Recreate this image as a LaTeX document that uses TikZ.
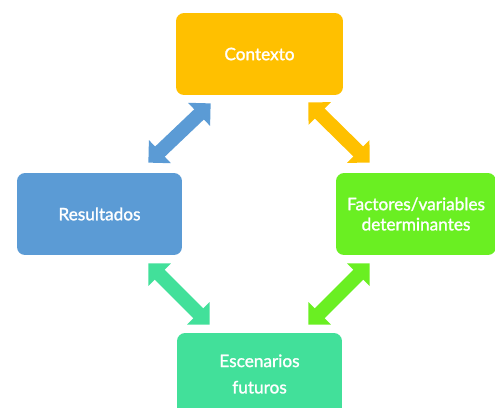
\documentclass[tikz,border=0pt]{standalone}
\usepackage{fontspec}
\setmainfont{Lato}[BoldFont=Lato, BoldFeatures={FakeBold=1.4}]
\usetikzlibrary{arrows.meta,calc}
\definecolor{ctxcolor}{HTML}{FFC000}
\definecolor{rescolor}{HTML}{5B9BD5}
\definecolor{faccolor}{HTML}{6AEF22}
\definecolor{esccolor}{HTML}{42E09A}
\begin{document}
\begin{tikzpicture}[x=0.02cm,y=-0.02cm]
        % Define styles for nodes and edges
        \tikzstyle{box}=[rounded corners=0.16cm, minimum height=1.64cm, inner sep=0pt, text=white, align=center, font=\fontsize{9.8}{11.5}\selectfont\bfseries]
        \tikzstyle{biarrow}=[line width=0.28cm, {Triangle[width=0.62cm,length=0.32cm]}-{Triangle[width=0.62cm,length=0.32cm]}]

        \useasboundingbox (0,0) rectangle (495,407);
        \clip (0,0) rectangle (495,407);

        % Define boxes
        \node[box, fill=ctxcolor, minimum width=3.34cm] (ctx) at (259.5,54) {Contexto};
        \node[box, fill=rescolor, minimum width=3.30cm] (res) at (99.5,214) {Resultados};
        \node[box, fill=faccolor, minimum width=3.20cm] (fac) at (416,214) {Factores/variables\\determinantes};
        \node[box, fill=esccolor, minimum width=3.30cm] (esc) at (259.5,374) {Escenarios\\[3.5pt]futuros};

        % Draw arrows
        \draw[biarrow, rescolor] ($(ctx.south west)+(35,8)$) -- ($(res.north east)+(-34,-10)$);
        \draw[biarrow, ctxcolor] ($(ctx.south east)+(-35,7)$) -- ($(fac.north west)+(34,-10)$);
        \draw[biarrow, esccolor] ($(res.south east)+(-34,8)$) -- ($(esc.north west)+(33,-8)$);
        \draw[biarrow, faccolor] ($(fac.south west)+(34,8)$) -- ($(esc.north east)+(-34,-8)$);

      \end{tikzpicture}
\end{document}
